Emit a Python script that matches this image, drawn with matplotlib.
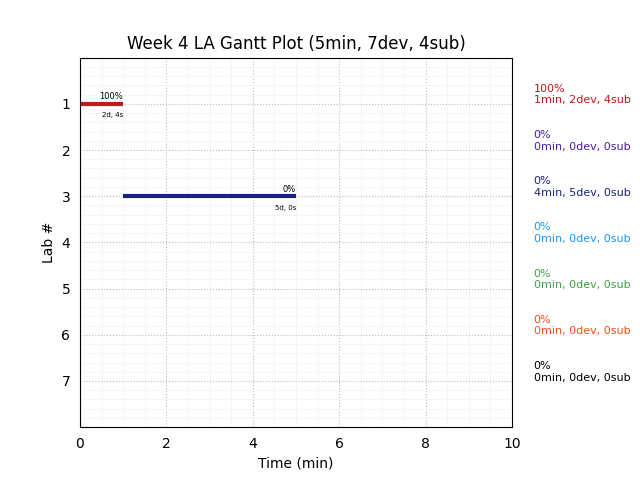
import matplotlib
matplotlib.use("Agg")
import matplotlib.pyplot as plt

# lab data
labs = [1, 2, 3, 4, 5, 6, 7]
starts = [0, 0, 1, 0, 0, 0, 0]
durations = [1, 0, 4, 0, 0, 0, 0]
percents = [100, 0, 0, 0, 0, 0, 0]
devs = [2, 0, 5, 0, 0, 0, 0]
subs = [4, 0, 0, 0, 0, 0, 0]
bar_labels = ["2d, 4s", "", "5d, 0s", "", "", "", ""]
colors = ["#c0181c", "#4a1e9e", "#1a237e", "#2196f3", "#43a047", "#f4511e", "#000000"]

fig, ax = plt.subplots(figsize=(6.4, 4.8), dpi=100)
fig.subplots_adjust(left=0.125, right=0.8, bottom=0.11, top=0.88)

for i, lab in enumerate(labs):
    if durations[i] > 0:
        end = starts[i] + durations[i]
        ax.plot([starts[i], end], [lab, lab], color=colors[i], linewidth=3, solid_capstyle="butt")
        ax.text(end, lab - 0.15, "{}%".format(percents[i]), ha="right", va="center", fontsize=6)
        ax.text(end, lab + 0.25, bar_labels[i], ha="right", va="center", fontsize=5)
    ax.text(10.5, lab - 0.2, "{}%\n{}min, {}dev, {}sub".format(percents[i], durations[i], devs[i], subs[i]),
            ha="left", va="center", fontsize=8, color=colors[i], clip_on=False)

ax.set_xlim(0, 10)
ax.set_ylim(8, 0)
ax.set_yticks(labs)
ax.minorticks_on()
ax.tick_params(which="both", length=0)
ax.tick_params(which="major", pad=7)
ax.grid(which="major", linestyle=":", color="#bbbbbb")
ax.grid(which="minor", linestyle="-", color="#f5f5f5", linewidth=0.6)
ax.set_axisbelow(True)
ax.set_xlabel("Time (min)")
ax.set_ylabel("Lab #")
ax.set_title("Week 4 LA Gantt Plot (5min, 7dev, 4sub)")

fig.savefig("out.png")
